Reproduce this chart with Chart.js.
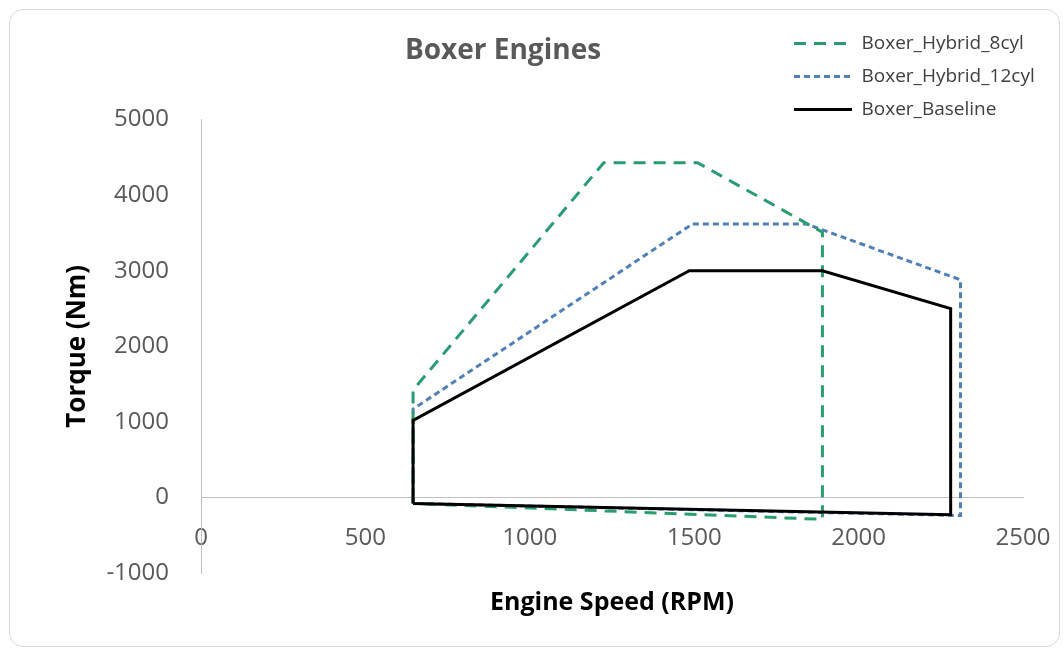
<!DOCTYPE html>
<html><head><meta charset="utf-8">
<script src="https://cdn.jsdelivr.net/npm/chart.js@4.4.1/dist/chart.umd.min.js"></script>
<style>
html,body{margin:0;padding:0;background:#fff;}
#wrap{position:relative;width:1063px;height:651px;overflow:hidden;}
#frame{position:absolute;left:9px;top:9px;width:1049px;height:636px;border:1px solid #d9d9d9;border-radius:14px;pointer-events:none;}
canvas{position:absolute;left:0;top:0;}
</style></head><body>
<div id="wrap"><canvas id="c" width="1063" height="651"></canvas><div id="frame"></div></div>
<script>
// ---- data ----
const chartTitle = 'Boxer Engines';
const xTitle = 'Engine Speed (RPM)';
const yTitle = 'Torque (Nm)';
const seriesNames = ['Boxer_Hybrid_8cyl', 'Boxer_Hybrid_12cyl', 'Boxer_Baseline'];

const hybrid8X  = [645, 645, 1225, 1510, 1890, 1890, 645];
const hybrid8Y  = [-80, 1420, 4430, 4430, 3510, -290, -80];

const hybrid12X = [645, 645, 1495, 1840, 2310, 2310, 645];
const hybrid12Y = [-80, 1170, 3620, 3620, 2880, -240, -80];

const baselineX = [645, 645, 1485, 1890, 2280, 2280, 645];
const baselineY = [-80, 1020, 3000, 3000, 2500, -230, -80];

const xTicks = [0, 500, 1000, 1500, 2000, 2500];
const yTicks = [-1000, 0, 1000, 2000, 3000, 4000, 5000];

const toPts = (xs, ys) => xs.map((x, i) => ({x: x, y: ys[i]}));

const FONT = "'Open Sans', 'DejaVu Sans', sans-serif";
const GRAY = '#595959';

const placePlugin = {
  id: 'placeBlocks',
  afterLayout(chart) {
    const lg = chart.legend;
    if (lg) {
      const w = lg.width, h = lg.height;
      lg.left = 780; lg.top = 20; lg.right = lg.left + w; lg.bottom = lg.top + h;
    }
    const t = chart.titleBlock;
    if (t) { t.left = 0; t.right = 1006; t.width = 1006; }
  }
};

new Chart(document.getElementById('c'), {
  type: 'scatter',
  data: {
    datasets: [
      {label: seriesNames[0], data: toPts(hybrid8X, hybrid8Y), xAxisID: 'x', yAxisID: 'y',
       borderColor: '#2a9d70', backgroundColor: '#2a9d70', borderWidth: 3, borderDash: [12, 8],
       showLine: true, pointRadius: 0, fill: false, tension: 0, order: 1},
      {label: seriesNames[1], data: toPts(hybrid12X, hybrid12Y), xAxisID: 'x', yAxisID: 'y',
       borderColor: '#4f81b8', backgroundColor: '#4f81b8', borderWidth: 3, borderDash: [6, 4],
       showLine: true, pointRadius: 0, fill: false, tension: 0, order: 2},
      {label: seriesNames[2], data: toPts(baselineX, baselineY), xAxisID: 'x', yAxisID: 'y',
       borderColor: '#000000', backgroundColor: '#000000', borderWidth: 3,
       showLine: true, pointRadius: 0, fill: false, tension: 0, order: 0}
    ]
  },
  options: {
    responsive: false,
    animation: false,
    devicePixelRatio: 1,
    layout: {padding: {left: 8, right: 40, top: 10, bottom: 10}},
    plugins: {
      tooltip: {enabled: false},
      title: {display: true, text: chartTitle, color: GRAY,
              font: {family: FONT, size: 28, weight: 'bold'}, padding: {top: 24, bottom: 52}},
      legend: {
        position: 'chartArea', align: 'start',
        labels: {
          usePointStyle: true, pointStyle: 'line', pointStyleWidth: 58,
          color: '#404040', font: {family: FONT, size: 19}, padding: 14,
          generateLabels: (chart) => {
            const items = Chart.defaults.plugins.legend.labels.generateLabels(chart);
            items.forEach(it => {
              const ds = chart.data.datasets[it.datasetIndex];
              it.lineDash = ds.borderDash || [];
              it.lineWidth = ds.borderWidth;
              it.strokeStyle = ds.borderColor;
              it.fillStyle = ds.borderColor;
            });
            return items;
          },
          sort: (a, b) => a.datasetIndex - b.datasetIndex
        }
      }
    },
    scales: {
      x: {
        type: 'linear', position: {y: 0}, min: 0, max: 2500,
        afterBuildTicks: (s) => { s.ticks = xTicks.map(v => ({value: v})); },
        ticks: {color: GRAY, font: {family: FONT, size: 24}, padding: 26, maxRotation: 0, autoSkip: false,
                callback: (v) => String(v)},
        grid: {display: true, drawOnChartArea: false, drawTicks: false},
        border: {display: true, color: '#c0c0c0', width: 1},
        afterFit: (s) => { s.height = 0; s.paddingLeft = 0; s.paddingRight = 0; }
      },
      x2: {
        type: 'linear', position: 'bottom', min: 0, max: 1,
        ticks: {display: false},
        grid: {display: false, drawTicks: false},
        border: {display: false},
        title: {display: true, text: xTitle, color: '#000000',
                font: {family: FONT, size: 25, weight: 'bold'}, padding: {top: 0, bottom: 23}},
        afterFit: (s) => { s.height = 68; }
      },
      y: {
        type: 'linear', position: 'left', min: -1000, max: 5000,
        afterBuildTicks: (s) => { s.ticks = yTicks.map(v => ({value: v})); },
        ticks: {color: GRAY, font: {family: FONT, size: 24}, padding: 32, callback: (v) => String(v)},
        grid: {display: true, drawOnChartArea: false, drawTicks: false},
        border: {display: true, color: '#c0c0c0', width: 1},
        title: {display: true, text: yTitle, color: '#000000',
                font: {family: FONT, size: 26, weight: 'bold'}, padding: {top: 54, bottom: 0}},
        afterFit: (s) => { s.width = 193; s.paddingTop = 0; s.paddingBottom = 0; }
      }
    }
  },
  plugins: [placePlugin]
});
</script>
</body></html>
